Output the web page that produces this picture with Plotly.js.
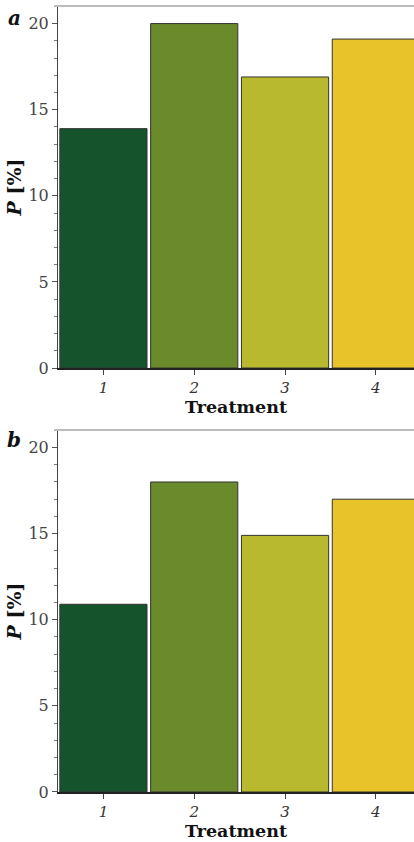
<!DOCTYPE html>
<html>
<head>
<meta charset="utf-8">
<script src="https://cdn.plot.ly/plotly-3.0.1.min.js"></script>
<style>html,body{margin:0;padding:0;background:#fff;}#chart{width:414px;height:842px;}</style>
</head>
<body>
<div id="chart"></div>
<script>
const treatments = [1, 2, 3, 4];
const tickLabels = ['1', '2', '3', '4'];
const valuesA = [13.9, 20.0, 16.9, 19.1];
const valuesB = [10.9, 18.0, 14.9, 17.0];
const barColors = ['#15532d', '#6a8a2c', '#b8b92e', '#e9c32a'];
const panelLabels = ['a', 'b'];

const serif = '"DejaVu Serif", serif';

function barTrace(vals, xa, ya) {
  return {
    type: 'bar', x: treatments, y: vals, xaxis: xa, yaxis: ya,
    marker: {color: barColors, line: {color: '#333', width: 1}},
    hoverinfo: 'skip', showlegend: false
  };
}

function xAxis(domainAnchor) {
  return {
    anchor: domainAnchor, domain: [0, 1], range: [0.5, 4.42],
    tickvals: treatments, ticktext: tickLabels,
    ticks: 'outside', ticklen: 5, tickcolor: '#444', tickwidth: 1,
    showline: true, linecolor: '#222', linewidth: 1.5,
    showgrid: false, zeroline: false, fixedrange: true,
    tickfont: {family: serif, size: 15, color: '#333', style: 'italic'},
    title: {text: '<b>Treatment</b>', font: {family: serif, size: 17.5, color: '#111'}, standoff: 3}
  };
}
function yAxis(domain, anchor) {
  return {
    anchor: anchor, domain: domain, range: [0, 21.02],
    tickvals: [0, 5, 10, 15, 20],
    ticks: 'outside', ticklen: 5, tickcolor: '#555', tickwidth: 1,
    minor: {dtick: 1, ticks: 'outside', ticklen: 3, tickcolor: '#777', showgrid: false},
    showline: true, linecolor: '#444', linewidth: 1,
    showgrid: false, zeroline: false, fixedrange: true,
    tickfont: {family: serif, size: 16, color: '#444'},
    title: {text: '<b><i>P</i> [%]</b>', font: {family: serif, size: 19, color: '#111'}, standoff: 1}
  };
}

const domB = [0, 0.4606];
const domA = [0.5394, 1];

const layout = {
  width: 414, height: 842,
  margin: {l: 58, r: 0, t: 6, b: 50},
  paper_bgcolor: '#fff', plot_bgcolor: '#fff',
  bargap: 0.04,
  xaxis: xAxis('y'),
  yaxis: yAxis(domB, 'x'),
  xaxis2: xAxis('y2'),
  yaxis2: yAxis(domA, 'x2'),
  shapes: [
    {type: 'line', xref: 'paper', yref: 'paper', x0: -0.01, x1: 1, y0: domA[1], y1: domA[1], line: {color: '#bdbdbd', width: 2}},
    {type: 'line', xref: 'paper', yref: 'paper', x0: -0.01, x1: 1, y0: domB[1], y1: domB[1], line: {color: '#bdbdbd', width: 2}}
  ],
  annotations: [
    {text: '<b><i>' + panelLabels[0] + '</i></b>', xref: 'paper', yref: 'paper', x: -0.123, y: 0.985, xanchor: 'center', yanchor: 'middle', showarrow: false, font: {family: serif, size: 20, color: '#111'}},
    {text: '<b><i>' + panelLabels[1] + '</i></b>', xref: 'paper', yref: 'paper', x: -0.123, y: 0.448, xanchor: 'center', yanchor: 'middle', showarrow: false, font: {family: serif, size: 20, color: '#111'}}
  ]
};

Plotly.newPlot('chart', [barTrace(valuesA, 'x2', 'y2'), barTrace(valuesB, 'x', 'y')], layout, {displayModeBar: false, staticPlot: true});
</script>
</body>
</html>
